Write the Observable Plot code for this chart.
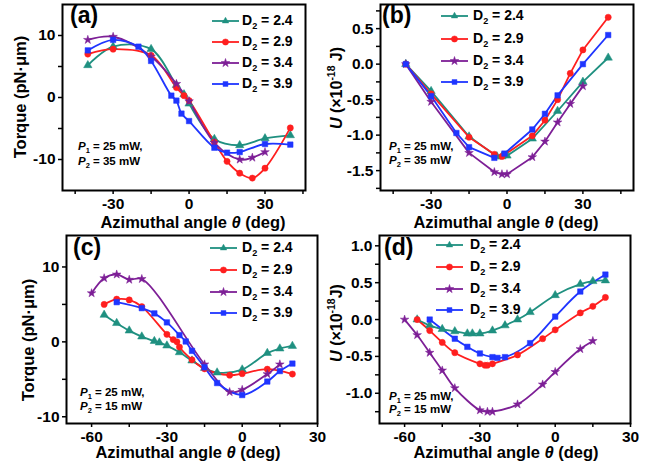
<!DOCTYPE html>
<html><head><meta charset="utf-8">
<script src="https://cdn.jsdelivr.net/npm/d3@7"></script>
<script src="https://cdn.jsdelivr.net/npm/@observablehq/plot@0.6"></script>
<style>
body{margin:0;background:#fff;}
#wrap{position:relative;width:658px;height:468px;overflow:hidden;background:#fff;font-family:"Liberation Sans",Arial,sans-serif;font-weight:bold;color:#000;}
.pan{position:absolute;}
.t{position:absolute;white-space:nowrap;line-height:1;}
.rot{transform:translate(-50%,-50%) rotate(-90deg);}
.ctr{transform:translate(-50%,-50%);}
sub,sup{font-size:65%;}
</style></head><body><div id="wrap"></div>
<script>
// ---- series styling / names ----
const seriesNames = ["2.4", "2.9", "3.4", "3.9"];
const colors = ["#1f9080", "#ff1f1f", "#7d1f96", "#1f35ff"];
const symbols = ["triangle", "circle", "star", "square"];

// ---- panel (a): torque, P2 = 35 mW ----
const a24x = [-40, -30, -15, -5, -2, 0, 10, 20, 30, 40];
const a24y = [5.2, 8.2, 7.8, 2.0, 0.5, -1.0, -6.7, -7.7, -6.6, -6.1];
const a29x = [-40, -30, -15, -5, -2, 0, 10, 15, 20, 25, 30, 40];
const a29y = [7.0, 7.8, 6.8, 1.6, 0.3, -0.5, -7.2, -10.3, -12.2, -13.0, -11.4, -4.9];
const a34x = [-40, -30, -15, -5, 0, 10, 20, 25, 30];
const a34y = [9.3, 9.8, 6.6, 2.2, -0.6, -7.3, -10.0, -9.7, -8.8];
const a39x = [-40, -30, -20, -15, -7, -5, -3, 0, 10, 15, 20, 30, 40];
const a39y = [7.6, 9.3, 8.2, 5.9, 0.3, -0.5, -2.6, -3.8, -8.1, -8.9, -8.8, -7.5, -7.6];

// ---- panel (b): energy, P2 = 35 mW ----
const b24x = [-40, -30, -15, -4, -2, 0, 10, 20, 30, 40];
const b24y = [0, -0.38, -1.02, -1.30, -1.30, -1.29, -1.05, -0.66, -0.25, 0.09];
const b29x = [-40, -30, -15, -5, -2, 10, 15, 20, 25, 30, 40];
const b29y = [0, -0.42, -1.03, -1.27, -1.30, -1.01, -0.79, -0.50, -0.13, 0.20, 0.66];
const b34x = [-40, -30, -15, -5, -2, 0, 10, 15, 20, 25, 30];
const b34y = [0, -0.53, -1.25, -1.52, -1.55, -1.55, -1.31, -1.09, -0.82, -0.56, -0.31];
const b39x = [-40, -30, -20, -15, -5, -1, 10, 15, 20, 30, 40];
const b39y = [0, -0.45, -0.97, -1.17, -1.32, -1.26, -0.92, -0.70, -0.44, 0.0, 0.41];

// ---- panel (c): torque, P2 = 15 mW ----
const c24x = [-55, -50, -45, -40, -35, -33, -30, -25, -20, -15, -10, 0, 10, 15, 20];
const c24y = [3.6, 2.5, 1.5, 0.7, 0.1, -0.1, -0.5, -1.4, -2.5, -3.5, -4.1, -3.7, -1.5, -0.9, -0.55];
const c29x = [-55, -50, -45, -40, -30, -27.5, -26, -25, -20, -15, -5, 0, 10, 20];
const c29y = [5.0, 5.7, 5.6, 4.7, 1.0, 0.3, 0.0, -0.7, -2.4, -3.6, -4.45, -4.25, -3.65, -4.3];
const c34x = [-60, -55, -50, -45, -40, -15, -5, 0, 10, 15];
const c34y = [6.5, 8.5, 9.0, 8.3, 8.4, -3.0, -6.7, -6.4, -4.3, -3.0];
const c39x = [-50, -40, -35, -30, -25, -22.5, -20, -15, -10, 0, 10, 15, 20];
const c39y = [5.3, 4.5, 3.8, 2.6, 0.9, 0.05, -1.2, -3.4, -5.5, -7.1, -5.3, -3.9, -2.9];

// ---- panel (d): energy, P2 = 15 mW ----
const d24x = [-55, -50, -45, -40, -35, -33, -30, -25, -20, -15, -10, 0, 10, 15, 20];
const d24y = [0, -0.08, -0.13, -0.16, -0.19, -0.19, -0.19, -0.15, -0.08, 0, 0.10, 0.33, 0.48, 0.52, 0.53];
const d29x = [-55, -50, -45, -40, -30, -28, -27, -25, -15, -5, 0, 10, 15, 20];
const d29y = [0, -0.15, -0.31, -0.45, -0.60, -0.62, -0.62, -0.60, -0.48, -0.26, -0.14, 0.09, 0.18, 0.30];
const d34x = [-60, -55, -50, -45, -40, -30, -27, -25, -15, -5, 0, 10, 15];
const d34y = [0, -0.21, -0.45, -0.69, -0.93, -1.23, -1.25, -1.25, -1.15, -0.88, -0.71, -0.40, -0.29];
const d39x = [-50, -40, -35, -30, -25, -23, -20, -10, 0, 10, 20];
const d39y = [0, -0.26, -0.37, -0.46, -0.51, -0.52, -0.51, -0.32, 0.04, 0.38, 0.61];

// ---- ticks ----
const xTicksAB = [-45, -30, -15, 0, 15, 30, 45];
const xTicksCD = [-60, -45, -30, -15, 0, 15, 30];
const yTicksTorque = [-10, -5, 0, 5, 10];
const yTicksB = [-1.75, -1.5, -1.25, -1, -0.75, -0.5, -0.25, 0, 0.25, 0.5, 0.75];
const yTicksD = [-1.25, -1, -0.75, -0.5, -0.25, 0, 0.25, 0.5, 0.75, 1];

const wrap = document.getElementById("wrap");
const FONT = '"Liberation Sans", Arial, sans-serif';
const symR = s => (s === "star" ? 2.7 : 3.1);

function mk(pairs) {
  return pairs.map(([xs, ys]) => xs.map((x, j) => ({x, y: ys[j]})));
}

function panel(o) {
  const marks = [];
  o.series.forEach((pts, i) => {
    marks.push(Plot.line(pts, {x: "x", y: "y", stroke: colors[i], strokeWidth: 1.8, curve: o.curve}));
  });
  o.series.forEach((pts, i) => {
    marks.push(Plot.dot(pts, {x: "x", y: "y", fill: colors[i], stroke: colors[i], strokeWidth: 0.5, symbol: symbols[i], r: symR(symbols[i])}));
  });
  marks.push(Plot.axisX({ticks: o.xTicks, tickFormat: d => (d % 30 === 0 ? String(d) : ""), tickSize: 4, tickPadding: 3, strokeWidth: 1.5, fontSize: 15.5, label: null}));
  marks.push(Plot.axisY({ticks: o.yTicks, tickFormat: o.yFmt, tickSize: 4, tickPadding: 3, strokeWidth: 1.5, fontSize: 15.5, label: null}));
  marks.push(Plot.frame({stroke: "black", strokeWidth: 2}));
  const svg = Plot.plot({
    width: o.w, height: o.h,
    marginLeft: o.m[0], marginRight: o.m[1], marginTop: o.m[2], marginBottom: o.m[3],
    x: {domain: o.xDomain},
    y: {domain: o.yDomain},
    style: {fontFamily: FONT, fontWeight: "bold", color: "#000", background: "transparent", overflow: "visible"},
    marks
  });
  svg.classList.add("pan");
  svg.style.left = o.left + "px";
  svg.style.top = o.top + "px";
  wrap.appendChild(svg);
}

function text(html, x, y, size, cls, style) {
  const d = document.createElement("div");
  d.className = "t " + (cls || "");
  d.innerHTML = html;
  d.style.left = x + "px";
  d.style.top = y + "px";
  d.style.fontSize = size + "px";
  if (style) Object.assign(d.style, style);
  wrap.appendChild(d);
}

const symGen = {
  triangle: d3.symbolTriangle2, circle: d3.symbolCircle, star: d3.symbolStar, square: d3.symbolSquare2
};
function legend(x0, y0s, textX) {
  seriesNames.forEach((name, i) => {
    const y = y0s[i];
    const r = symR(symbols[i]);
    const path = d3.symbol(symGen[symbols[i]], r * r * Math.PI)();
    const s = document.createElementNS("http://www.w3.org/2000/svg", "svg");
    s.setAttribute("width", 30); s.setAttribute("height", 12);
    s.style.position = "absolute";
    s.style.left = x0 + "px"; s.style.top = (y - 6) + "px";
    s.innerHTML = `<line x1="1" y1="6" x2="28" y2="6" stroke="${colors[i]}" stroke-width="1.8"/>` +
      `<path d="${path}" transform="translate(14.5,6)" fill="${colors[i]}" stroke="${colors[i]}" stroke-width="0.5"/>`;
    wrap.appendChild(s);
    text(`D<sub>2</sub> = ${name}`, textX, y - 8, 14);
  });
}

const fmtTorque = d => (d % 10 === 0 ? String(d) : "");
const fmtHalf = d => (Math.abs(d * 2 - Math.round(d * 2)) < 1e-9 ? d.toFixed(1) : "");

// (a)
panel({series: mk([[a24x, a24y], [a29x, a29y], [a34x, a34y], [a39x, a39y]]), curve: "catmull-rom",
  xDomain: [-50, 46], yDomain: [-15, 15], xTicks: xTicksAB, yTicks: yTicksTorque, yFmt: fmtTorque,
  left: 0, top: 0, w: 329, h: 234, m: [62, 24, 4, 44]});
// (b)
panel({series: mk([[b24x, b24y], [b29x, b29y], [b34x, b34y], [b39x, b39y]]), curve: "linear",
  xDomain: [-50, 50], yDomain: [-1.78, 0.84], xTicks: xTicksAB, yTicks: yTicksB, yFmt: fmtHalf,
  left: 329, top: 0, w: 329, h: 234, m: [51, 25, 4, 44]});
// (c)
panel({series: mk([[c24x, c24y], [c29x, c29y], [c34x, c34y], [c39x, c39y]]), curve: "catmull-rom",
  xDomain: [-70, 30], yDomain: [-10.9, 14.2], xTicks: xTicksCD, yTicks: yTicksTorque, yFmt: fmtTorque,
  left: 0, top: 232, w: 329, h: 236, m: [66, 12, 3, 45]});
// (d)
panel({series: mk([[d24x, d24y], [d29x, d29y], [d34x, d34y], [d39x, d39y]]), curve: "catmull-rom",
  xDomain: [-70, 30], yDomain: [-1.41, 1.14], xTicks: xTicksCD, yTicks: yTicksD, yFmt: fmtHalf,
  left: 329, top: 232, w: 329, h: 236, m: [50, 28, 3, 45]});

// panel letters
text("(a)", 70, 4, 23);
text("(b)", 382, 4, 23);
text("(c)", 73, 236, 23);
text("(d)", 384, 236, 23);

// x titles
const xt = 'Azimuthal angle <i>θ</i> (deg)';
text(xt, 193, 222, 16.5, "ctr");
text(xt, 506, 222, 16.5, "ctr");
text(xt, 188, 452, 16.5, "ctr");
text(xt, 506, 452, 16.5, "ctr");

// y titles
text("Torque (pN·μm)", 20, 97, 16.5, "rot");
text("<i>U</i> (×10<sup>-18</sup> J)", 336, 88, 16, "rot");
text("Torque (pN·μm)", 28, 340, 16.5, "rot");
text("<i>U</i> (×10<sup>-18</sup>J)", 336, 323, 16, "rot");

// power annotations
const p1 = "<i>P</i><sub>1</sub> = 25 mW,";
text(p1, 78, 141, 11.5);
text("<i>P</i><sub>2</sub> = 35 mW", 78, 156, 11.5);
text(p1, 389, 141, 11.5);
text("<i>P</i><sub>2</sub> = 35 mW", 389, 155, 11.5);
text(p1, 80, 387, 11.5);
text("<i>P</i><sub>2</sub> = 15 mW", 80, 401, 11.5);
text(p1, 389, 391, 11.5);
text("<i>P</i><sub>2</sub> = 15 mW", 389, 404, 11.5);

// legends
legend(211, [21, 42, 63, 84], 242);
legend(440, [16, 39, 61, 82], 473);
legend(209, [248, 270, 292, 313], 242);
legend(435, [245, 267, 289, 310], 470);
</script></body></html>
